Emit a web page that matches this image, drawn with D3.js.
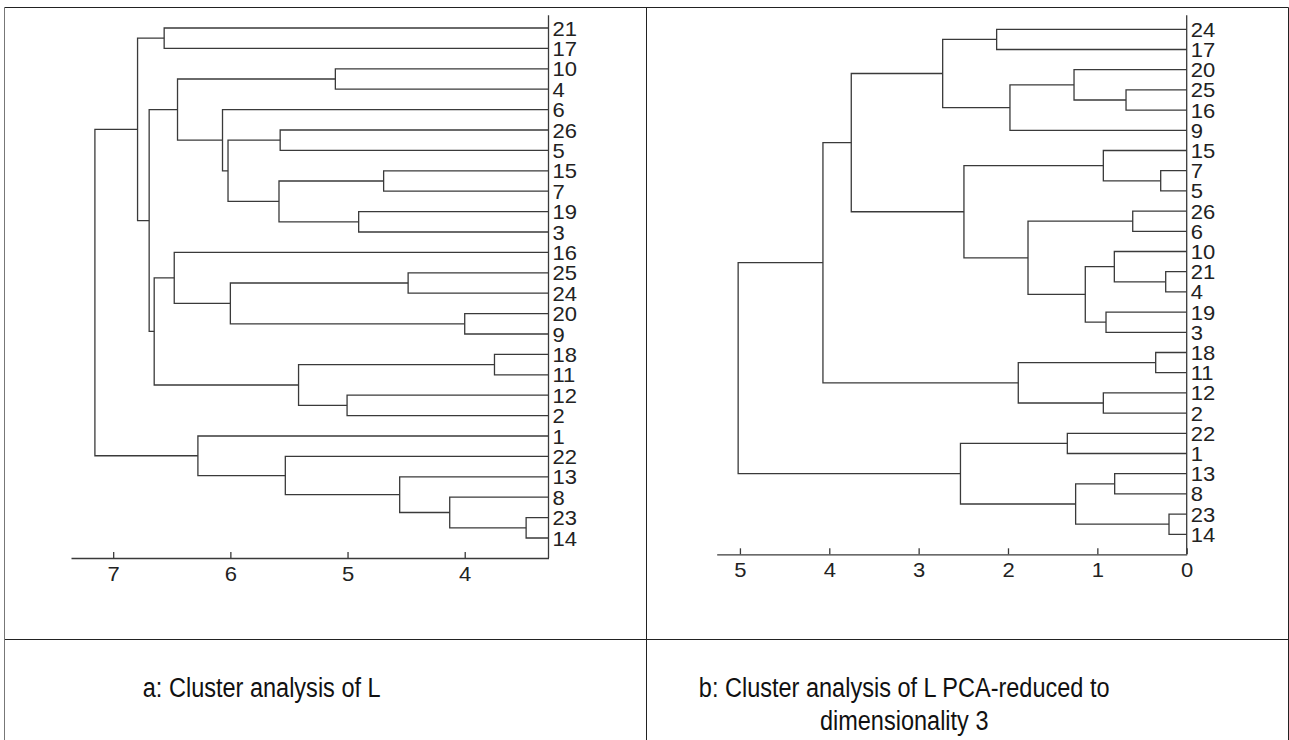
<!DOCTYPE html>
<html>
<head>
<meta charset="utf-8">
<script src="https://cdn.jsdelivr.net/npm/d3@7"></script>
<style>
body { margin: 0; background: #fff; }
text { font-family: "Liberation Sans", Arial, sans-serif; }
</style>
</head>
<body>
<svg width="1289" height="740"></svg>
<script>
// a: leaf order, merges as [child, child, height]; "#n" = result of merge n
var leavesA = ["21","17","10","4","6","26","5","15","7","19","3","16","25","24","20","9","18","11","12","2","1","22","13","8","23","14"];
var mergesA = [
  ["21","17",6.565],
  ["10","4",5.104],
  ["15","7",4.692],
  ["19","3",4.905],
  ["26","5",5.575],
  ["#2","#3",5.585],
  ["#4","#5",6.02],
  ["6","#6",6.067],
  ["#1","#7",6.451],
  ["25","24",4.483],
  ["20","9",4.0],
  ["#9","#10",6.0],
  ["16","#11",6.479],
  ["18","11",3.746],
  ["12","2",5.004],
  ["#13","#14",5.418],
  ["#12","#15",6.65],
  ["#8","#16",6.693],
  ["#0","#17",6.792],
  ["23","14",3.476],
  ["8","#19",4.128],
  ["13","#20",4.555],
  ["22","#21",5.531],
  ["1","#22",6.277],
  ["#18","#23",7.156]
];
var ticksA = [7, 6, 5, 4];

// b
var leavesB = ["24","17","20","25","16","9","15","7","5","26","6","10","21","4","19","3","18","11","12","2","22","1","13","8","23","14"];
var mergesB = [
  ["24","17",2.127],
  ["25","16",0.679],
  ["20","#1",1.261],
  ["#2","9",1.978],
  ["#0","#3",2.731],
  ["7","5",0.291],
  ["15","#5",0.933],
  ["26","6",0.604],
  ["21","4",0.235],
  ["10","#8",0.81],
  ["19","3",0.903],
  ["#9","#10",1.135],
  ["#7","#11",1.776],
  ["#6","#12",2.493],
  ["#4","#13",3.754],
  ["18","11",0.347],
  ["12","2",0.933],
  ["#15","#16",1.885],
  ["#14","#17",4.071],
  ["22","1",1.336],
  ["13","8",0.806],
  ["23","14",0.198],
  ["#20","#21",1.243],
  ["#19","#22",2.532],
  ["#18","#23",5.02]
];
var ticksB = [5, 4, 3, 2, 1, 0];

var captionA = ["a: Cluster analysis of L"];
var captionB = ["b: Cluster analysis of L PCA-reduced to", "dimensionality 3"];

var svg = d3.select("svg");

// table frame
var frame = svg.append("g").attr("stroke", "#222").attr("stroke-width", 1);
frame.append("line").attr("x1", 4.5).attr("x2", 1288.5).attr("y1", 7.5).attr("y2", 7.5);
frame.append("line").attr("x1", 4.5).attr("x2", 1288.5).attr("y1", 639.5).attr("y2", 639.5);
frame.append("line").attr("x1", 4.5).attr("x2", 4.5).attr("y1", 7.5).attr("y2", 740).attr("stroke", "#777");
frame.append("line").attr("x1", 646.5).attr("x2", 646.5).attr("y1", 7.5).attr("y2", 740);
frame.append("line").attr("x1", 1288.5).attr("x2", 1288.5).attr("y1", 7.5).attr("y2", 740);

function dendrogram(leaves, merges, ticks, xDomain, xRange, yRange, axisTop, axisY) {
  var x = d3.scaleLinear().domain(xDomain).range(xRange);
  var y = d3.scalePoint().domain(leaves).range(yRange);
  var g = svg.append("g");
  var pos = {};
  leaves.forEach(function(d) { pos[d] = {x: xRange[1], y: y(d)}; });

  merges.forEach(function(m, i) {
    var a = pos[m[0]], b = pos[m[1]];
    var n = {x: x(m[2]), y: (a.y + b.y) / 2};
    pos["#" + i] = n;
    g.append("path")
      .attr("d", "M" + a.x + "," + a.y + "H" + n.x + "V" + b.y + "H" + b.x)
      .attr("fill", "none")
      .attr("stroke", "#3a3a3a")
      .attr("stroke-width", 1.3);
  });

  // leaf labels
  var la = g.append("g")
    .attr("transform", "translate(" + xRange[1] + ",0)")
    .call(d3.axisRight(y).tickSize(0).tickPadding(0));
  la.select(".domain").remove();
  la.selectAll("text")
    .attr("x", 0)
    .attr("transform", "translate(4,0) scale(1.1,1)")
    .attr("font-size", 20).attr("font-family", "Liberation Sans, Arial, sans-serif")
    .attr("fill", "#222").attr("dy", "0.35em");

  g.append("line")
    .attr("x1", xRange[1]).attr("x2", xRange[1])
    .attr("y1", axisTop).attr("y2", axisY)
    .attr("stroke", "#3a3a3a").attr("stroke-width", 1.3);

  var xa = g.append("g")
    .attr("transform", "translate(0," + axisY + ")")
    .attr("color", "#3a3a3a")
    .call(d3.axisBottom(x).tickValues(ticks).tickSizeInner(-6).tickSizeOuter(0)
      .tickPadding(9).tickFormat(d3.format("d")));
  xa.select(".domain").attr("stroke-width", 1.3);
  xa.selectAll(".tick line").attr("stroke-width", 1.3);
  xa.selectAll("text")
    .attr("transform", "scale(1.1,1)")
    .attr("font-size", 20).attr("font-family", "Liberation Sans, Arial, sans-serif")
    .attr("fill", "#222");
}

dendrogram(leavesA, mergesA, ticksA, [7.36, 3.285], [71, 548.5], [28, 538], 15.3, 558);
dendrogram(leavesB, mergesB, ticksB, [5.26, 0], [716.7, 1186.7], [29.3, 534.3], 15.3, 554.3);

function caption(lines, cx) {
  svg.append("g").selectAll("text")
    .data(lines)
    .enter()
    .append("text")
    .attr("transform", function(d, i) { return "translate(" + cx + "," + (697.3 + i * 33) + ") scale(0.84,1)"; })
    .attr("text-anchor", "middle")
    .attr("font-size", 28)
    .attr("fill", "#111")
    .text(function(d) { return d; });
}
caption(captionA, 261.7);
caption(captionB, 904.2);
</script>
</body>
</html>
